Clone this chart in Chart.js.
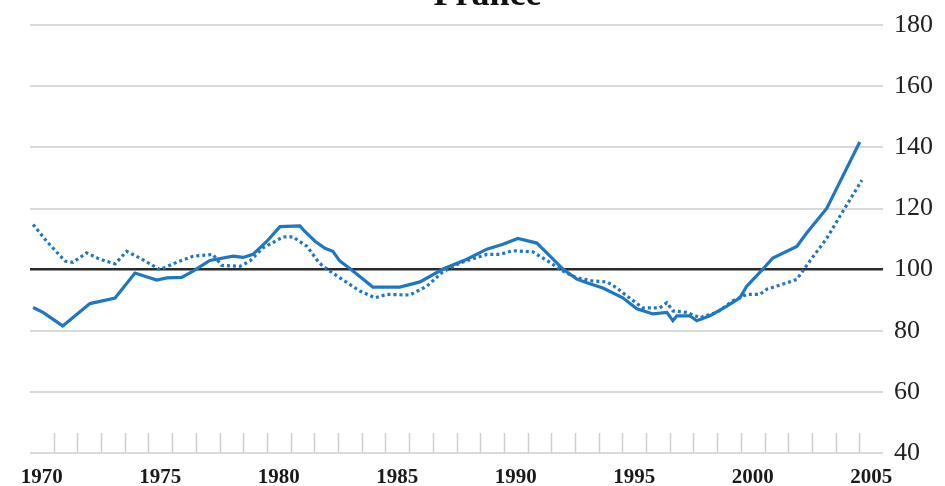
<!DOCTYPE html>
<html><head><meta charset="utf-8">
<script src="https://cdn.jsdelivr.net/npm/chart.js@4/dist/chart.umd.min.js"></script>
<style>
html,body{margin:0;padding:0;background:#fff;overflow:hidden;width:945px;height:486px}
#wrap{position:absolute;left:0;top:-30px;width:945px;height:516px}
</style>
</head><body><div id="wrap"><canvas id="c"></canvas></div>
<script>
const chartTitle = 'France';
const tickYears = [1970, 1975, 1980, 1985, 1990, 1995, 2000, 2005];
const minorTickYears = [1971,1972,1973,1974,1975,1976,1977,1978,1979,1980,1981,1982,1983,1984,1985,1986,1987,1988,1989,1990,1991,1992,1993,1994,1995,1996,1997,1998,1999,2000,2001,2002,2003,2004,2005];
const yTicks = [40, 60, 80, 100, 120, 140, 160, 180];
const referenceLevel = 100;

const solidYears = [1970.13,1970.55,1971.38,1972.53,1973.59,1974.43,1975.35,1975.77,1976.40,1976.88,1977.59,1978.57,1978.99,1979.41,1980.00,1980.55,1981.39,1981.60,1982.03,1982.45,1982.78,1983.08,1983.50,1984.47,1985.61,1986.46,1987.43,1988.44,1989.28,1989.96,1990.59,1991.39,1991.81,1992.49,1993.08,1993.50,1994.18,1995.02,1995.61,1996.29,1996.88,1997.13,1997.30,1997.85,1998.14,1998.69,1999.41,1999.96,2000.25,2000.93,2001.35,2002.36,2002.78,2003.63,2005.02];
const solidValues = [87.6,86,81.6,88.9,90.7,98.9,96.6,97.3,97.5,99.5,103,104.4,104,105,109.3,114.1,114.3,112.5,109.3,107,106,102.8,100.4,94.3,94.3,96,100.2,103.4,106.7,108.3,110.2,108.7,105.5,100.2,96.9,95.7,94,90.8,87.2,85.5,86,83.3,84.9,84.9,83.3,84.9,88.1,90.8,94.6,100.2,103.8,107.6,112,120.1,141.8];

const dottedYears = [1970.13,1970.70,1971.48,1971.81,1972.39,1972.95,1973.59,1974.08,1974.64,1975.49,1976.19,1976.88,1977.72,1978.09,1978.86,1979.28,1979.83,1980.68,1981.10,1981.69,1982.15,1982.36,1983.08,1983.92,1984.56,1985.06,1986.03,1986.75,1987.38,1988.14,1989.28,1989.83,1990.38,1991.22,1991.86,1992.49,1993.08,1993.76,1994.35,1994.77,1995.19,1995.86,1996.58,1996.88,1997.13,1997.72,1998.27,1998.99,1999.66,2000.25,2000.80,2001.10,2001.94,2002.36,2002.91,2003.63,2004.30,2005.11];
const dottedValues = [114.8,109.3,102.8,102.4,105.5,103.4,101.9,106,103.8,100,102.4,104.4,105,101.4,101.1,102.8,107.1,110.7,110.7,107.6,102.8,101.1,97.3,93,90.8,91.9,91.7,94.6,99,102.2,105,105,106.2,105.8,102.8,99.5,97.3,96.3,96,94,91.4,87.5,87.5,89.2,86.5,86,84.3,86,89.8,91.9,91.9,93.6,95.7,96.8,102.8,110.3,119,129.3];

const toPoints = (xs, ys) => xs.map((x, i) => ({x: x, y: ys[i]}));

const tickMarks = {
  id: 'tickMarks',
  beforeDatasetsDraw(chart) {
    const xs = chart.scales.x, ys = chart.scales.y;
    const ctx = chart.ctx;
    const base = ys.getPixelForValue(yTicks[0]);
    ctx.save();
    ctx.strokeStyle = '#cfcfcf';
    ctx.lineWidth = 1.5;
    ctx.beginPath();
    minorTickYears.forEach(yr => {
      const px = Math.round(xs.getPixelForValue(yr)) + 0.5;
      ctx.moveTo(px, base);
      ctx.lineTo(px, base - 20);
    });
    ctx.stroke();
    ctx.restore();
  }
};

new Chart(document.getElementById('c'), {
  type: 'line',
  data: {
    datasets: [
      {
        data: toPoints(dottedYears, dottedValues),
        borderColor: '#1f77c4',
        borderWidth: 3.2,
        borderDash: [3, 3],
        pointRadius: 0,
        tension: 0,
        fill: false
      },
      {
        data: toPoints(solidYears, solidValues),
        borderColor: '#1f77c4',
        borderWidth: 3.2,
        pointRadius: 0,
        tension: 0,
        fill: false
      }
    ]
  },
  options: {
    responsive: true,
    maintainAspectRatio: false,
    animation: false,
    devicePixelRatio: 1,
    layout: { padding: { left: 30, right: 0, top: 4, bottom: 0 } },
    plugins: {
      legend: { display: false },
      tooltip: { enabled: false },
      title: {
        display: true,
        text: chartTitle,
        color: '#111',
        font: { family: 'Liberation Serif', size: 36, weight: 'bold' },
        padding: { top: 0, bottom: 8 }
      }
    },
    scales: {
      x: {
        type: 'linear',
        min: 1970,
        max: 2006,
        grid: { display: false, drawTicks: false },
        border: { display: false },
        afterBuildTicks: s => { s.ticks = tickYears.map(y => ({ value: y + 0.5 })); },
        afterFit: s => { s.height = 33; },
        ticks: {
          autoSkip: false,
          maxRotation: 0,
          padding: 12,
          color: '#1a1a1a',
          font: { family: 'Liberation Serif', size: 21, weight: 'bold' },
          callback: v => String(Math.round(v - 0.5))
        }
      },
      y: {
        position: 'right',
        min: 40,
        max: 180,
        afterBuildTicks: s => { s.ticks = yTicks.map(v => ({ value: v })); },
        afterFit: s => { s.width = 62; },
        grid: {
          drawTicks: false,
          color: c => c.tick && c.tick.value === referenceLevel ? '#2a2a2a' : '#d9d9d9',
          lineWidth: c => c.tick && c.tick.value === referenceLevel ? 2.5 : 2
        },
        border: { display: false },
        ticks: {
          padding: 11,
          color: '#222',
          font: { family: 'Liberation Serif', size: 26 }
        }
      }
    }
  },
  plugins: [tickMarks]
});
</script>
</body></html>
